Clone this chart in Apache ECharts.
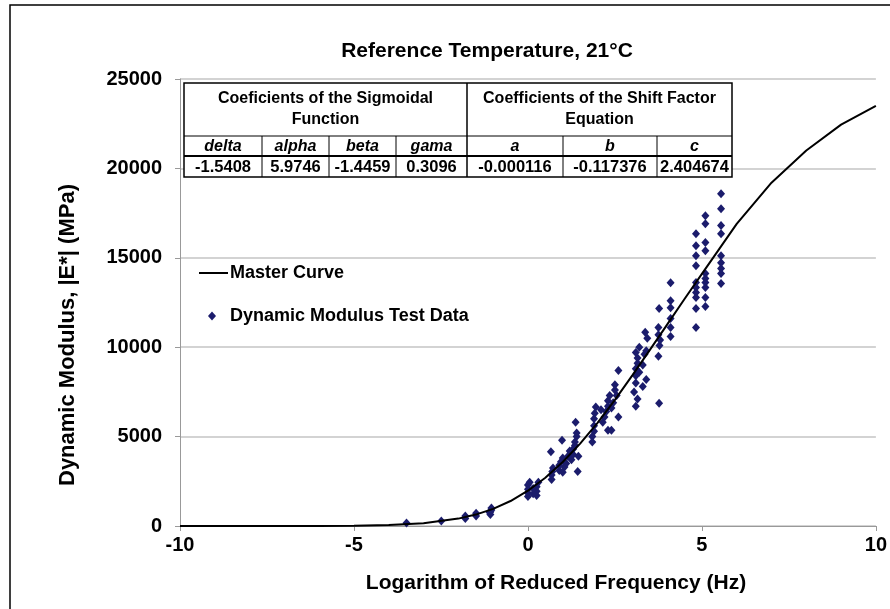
<!DOCTYPE html>
<html>
<head>
<meta charset="utf-8">
<script src="https://cdn.jsdelivr.net/npm/echarts@6/dist/echarts.min.js"></script>
<style>
html,body{margin:0;padding:0;background:#fff;}
#c{width:890px;height:609px;}
</style>
</head>
<body>
<div id="c"></div>
<script>
// ---- data ----
const curveX = [-10,-9,-8,-7,-6,-5,-4,-3,-2,-1.5,-1,-0.5,0,0.5,1,1.5,2,2.5,3,3.5,4,4.5,5,5.5,6,7,8,9,10];
const curveY = [0.3,0.5,1.1,2.6,6.9,20,57,159,413,638,959,1397,1973,2695,3577,4609,5773,7054,8423,9835,11265,12695,14100,15500,16900,19200,21000,22450,23500];

const testX = [
  -3.49,-2.49,-1.8,-1.8,-1.49,-1.49,-1.08,-1.08,-1.05,-1.05,-1.1,
  0,0,0,0,0.05,0.25,0.25,0.25,0.3,0.15,0.15,
  0.68,0.68,0.7,0.72,0.66,
  0.9,0.9,0.95,1.0,1.05,1.1,1.15,0.98,1.0,
  1.25,1.3,1.3,1.35,1.35,1.4,1.4,1.37,1.43,1.45,1.2,
  1.85,1.85,1.9,1.9,1.9,1.92,1.95,
  2.15,2.2,2.25,2.3,2.3,2.35,2.4,2.45,2.5,2.5,2.3,2.4,2.6,2.6,2.55,2.1,
  3.05,3.1,3.1,3.1,3.15,3.15,3.1,3.2,3.2,3.15,3.1,3.3,3.35,3.37,3.4,3.4,3.3,3.43,
  3.77,3.75,3.75,3.78,3.75,3.77,3.8,
  4.1,4.1,4.1,4.1,4.1,4.1,
  4.83,4.83,4.83,4.83,4.83,4.83,4.83,4.83,4.83,4.83,
  5.1,5.1,5.1,5.1,5.1,5.1,5.1,5.1,5.1,5.1,
  5.55,5.55,5.55,5.55,5.55,5.55,5.55,5.55,5.55
];
const testY = [
  170,280,420,560,560,720,650,800,900,1000,750,
  1650,1850,2050,2300,2450,1700,1950,2200,2450,1800,2100,
  2600,2850,3050,3250,4150,
  3100,3400,3600,3800,3300,3500,3900,4800,3000,
  3700,4000,4300,4500,4700,5000,5200,5800,3050,3900,4200,
  4700,5000,5300,5600,6000,6300,6650,
  5800,6100,6400,6700,7000,7300,6600,6900,7600,7900,5350,5350,8700,6100,7300,6500,
  7500,8000,8400,8800,9100,9400,9700,10000,8600,7100,6700,9000,9600,10830,9800,8200,7800,10500,
  12170,11100,10700,10100,9500,6860,10400,
  13600,12600,12200,11600,11100,10600,
  16350,15680,15120,14560,13620,13340,13060,12780,12170,11100,
  17350,16900,15850,15400,14120,13840,13620,13340,12780,12280,
  18580,17750,16800,16350,15120,14730,14400,14120,13560
];

const xTicks = [-10,-5,0,5,10];
const yTicks = [0,5000,10000,15000,20000,25000];

const seriesNames = ['Master Curve','Dynamic Modulus Test Data'];
const groupHeaders = ['Coeficients of the Sigmoidal\nFunction','Coefficients of the Shift Factor\nEquation'];
const coefNames = ['delta','alpha','beta','gama','a','b','c'];
const coefValues = ['-1.5408','5.9746','-1.4459','0.3096','-0.000116','-0.117376','2.404674'];

// ---- build ----
const FONT = '"Liberation Sans", Arial, sans-serif';
const NAVY = '#1b1c6c';
const curveData = curveX.map((x,i)=>[x,curveY[i]]);
const testData = testX.map((x,i)=>[x,testY[i]]);

// table geometry
const colEdges = [184,262,329,396,467,563,657,732];
const rowEdges = [83,136,156,177];
const tableEls = [];
tableEls.push({type:'rect',shape:{x:colEdges[0],y:rowEdges[0],width:colEdges[7]-colEdges[0],height:rowEdges[3]-rowEdges[0]},style:{fill:'#fff',stroke:'#000',lineWidth:1.5},z:100});
tableEls.push({type:'line',shape:{x1:colEdges[0],y1:rowEdges[1],x2:colEdges[7],y2:rowEdges[1]},style:{stroke:'#000',lineWidth:1},z:101});
tableEls.push({type:'line',shape:{x1:colEdges[0],y1:rowEdges[2],x2:colEdges[7],y2:rowEdges[2]},style:{stroke:'#000',lineWidth:2},z:101});
for (let i=1;i<7;i++){
  const y1 = (i===4)?rowEdges[0]:rowEdges[1];
  tableEls.push({type:'line',shape:{x1:colEdges[i],y1:y1,x2:colEdges[i],y2:rowEdges[3]},style:{stroke:'#000',lineWidth:i===4?1.5:1},z:101});
}
[[0,4],[4,7]].forEach((span,k)=>{
  tableEls.push({type:'text',x:(colEdges[span[0]]+colEdges[span[1]])/2,y:(rowEdges[0]+rowEdges[1])/2,
    style:{text:groupHeaders[k],fill:'#000',font:'bold 16px '+FONT,align:'center',verticalAlign:'middle',lineHeight:21},z:102});
});
for (let i=0;i<7;i++){
  const cx=(colEdges[i]+colEdges[i+1])/2;
  tableEls.push({type:'text',x:cx,y:(rowEdges[1]+rowEdges[2])/2+1,style:{text:coefNames[i],fill:'#000',font:'italic bold 16px '+FONT,align:'center',verticalAlign:'middle'},z:102});
  tableEls.push({type:'text',x:cx,y:(rowEdges[2]+rowEdges[3])/2+1,style:{text:coefValues[i],fill:'#000',font:'bold 16.5px '+FONT,align:'center',verticalAlign:'middle'},z:102});
}

// legend (drawn)
const legendEls = [
  {type:'line',shape:{x1:199,y1:273,x2:228,y2:273},style:{stroke:'#000',lineWidth:2},z:50},
  {type:'text',x:230,y:273,style:{text:seriesNames[0],fill:'#000',font:'bold 18px '+FONT,align:'left',verticalAlign:'middle'},z:50},
  {type:'polygon',shape:{points:[[212,311.5],[216,316],[212,320.5],[208,316]]},style:{fill:NAVY},z:50},
  {type:'text',x:230,y:316,style:{text:seriesNames[1],fill:'#000',font:'bold 18px '+FONT,align:'left',verticalAlign:'middle'},z:50}
];

const chart = echarts.init(document.getElementById('c'),null,{renderer:'canvas'});
chart.setOption({
  animation:false,
  backgroundColor:'#fff',
  title:{text:'Reference Temperature, 21°C',left:482,top:36,textAlign:'center',
    textStyle:{fontFamily:FONT,fontWeight:'bold',fontSize:21,color:'#000'}},
  grid:{left:180,right:10,top:79,bottom:83,containLabel:false},
  xAxis:{type:'value',min:-10,max:10,interval:5,
    axisLine:{lineStyle:{color:'#999',width:1}},
    axisTick:{show:true,length:5,lineStyle:{color:'#999'}},
    axisLabel:{fontFamily:FONT,fontWeight:'bold',fontSize:20,color:'#000',margin:9,
      formatter:v=>xTicks.includes(v)?String(v):''},
    splitLine:{show:false}},
  yAxis:{type:'value',min:0,max:25000,interval:5000,
    axisLine:{show:true,onZero:false,lineStyle:{color:'#999',width:1}},
    axisTick:{show:true,length:5,lineStyle:{color:'#999'}},
    axisLabel:{fontFamily:FONT,fontWeight:'bold',fontSize:20,color:'#000',margin:18,
      formatter:v=>yTicks.includes(v)?String(v):''},
    splitLine:{show:true,lineStyle:{color:'#c4c4c4',width:1.5}}},
  graphic:[
    {type:'rect',shape:{x:10,y:5,width:900,height:620},style:{fill:'none',stroke:'#000',lineWidth:1.5},silent:true,z:-1},
    {type:'text',x:68,y:335,rotation:Math.PI/2,
      style:{text:'Dynamic Modulus, |E*| (MPa)',fill:'#000',font:'bold 22px '+FONT,align:'center',verticalAlign:'middle'}},
    {type:'text',x:556,y:583,
      style:{text:'Logarithm of Reduced Frequency (Hz)',fill:'#000',font:'bold 21px '+FONT,align:'center',verticalAlign:'middle'}},
    {type:'group',children:tableEls},
    {type:'group',children:legendEls}
  ],
  series:[
    {name:seriesNames[0],type:'line',data:curveData,symbol:'none',smooth:false,
      lineStyle:{color:'#000',width:2},z:3},
    {name:seriesNames[1],type:'scatter',data:testData,symbol:'diamond',symbolSize:[8,9],
      itemStyle:{color:NAVY,opacity:1},z:2}
  ]
});
</script>
</body>
</html>
